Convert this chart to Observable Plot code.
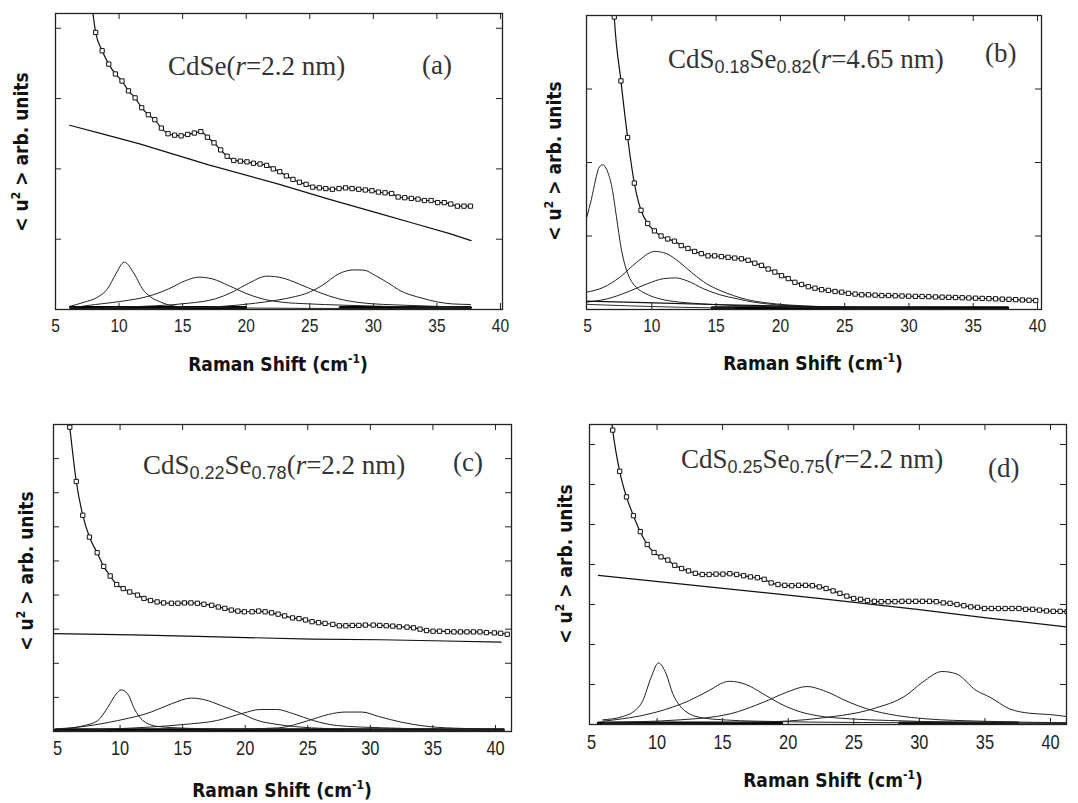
<!DOCTYPE html>
<html>
<head>
<meta charset="utf-8">
<script src="https://cdn.jsdelivr.net/npm/d3@7"></script>
<script src="https://cdn.jsdelivr.net/npm/@observablehq/plot@0.6"></script>
<style>
  body { margin: 0; background: #fff; }
  #page { position: relative; width: 1078px; height: 803px; overflow: hidden; background: #fff; }
  .pl { position: absolute; }
  .pl svg { display: block; }
  .t { position: absolute; font-family: "Liberation Serif", "Times New Roman", serif; font-size: 27px; line-height: 28px; color: #333; white-space: nowrap; }
  .t i { font-style: italic; }
  .t .sb { font-family: "Liberation Sans", Arial, sans-serif; font-size: 18px; position: relative; top: 5px; }
  .xl { position: absolute; font-family: "DejaVu Sans Condensed", "DejaVu Sans", sans-serif; font-stretch: condensed; font-weight: bold; font-size: 19px; line-height: 19px; white-space: nowrap; transform: translateX(-50%); color: #111; }
  .xl .sp, .yl .sp { font-size: 12px; position: relative; top: -8px; }
  .yl { position: absolute; font-family: "DejaVu Sans Condensed", "DejaVu Sans", sans-serif; font-stretch: condensed; font-weight: bold; font-size: 19px; line-height: 19px; white-space: nowrap; transform: translate(-50%, -50%) rotate(-90deg); color: #111; }
</style>
</head>
<body>
<div id="page"></div>
<script>
// ---------------- DATA ----------------
const xTickLabels = [5, 10, 15, 20, 25, 30, 35, 40];
const xTickMarks = [10, 15, 20, 25, 30, 35, 40];

// Panel (a) CdSe r=2.2 nm
const aX = [8.16,8.67,9.19,9.71,10.23,10.74,11.26,11.78,12.30,12.81,13.33,13.85,14.37,14.88,15.40,15.92,16.43,16.95,17.47,17.99,18.50,19.02,19.54,20.06,20.57,21.09,21.61,22.13,22.64,23.16,23.68,24.19,24.71,25.23,25.75,26.26,26.78,27.30,27.82,28.33,28.85,29.37,29.89,30.40,30.92,31.44,31.95,32.47,32.99,33.51,34.02,34.54,35.06,35.58,36.09,36.61,37.13,37.64];
const aY = [3.94,3.68,3.49,3.35,3.25,3.11,3.01,2.87,2.77,2.70,2.58,2.50,2.48,2.47,2.49,2.51,2.53,2.45,2.37,2.27,2.18,2.12,2.11,2.10,2.08,2.07,2.05,2.00,1.96,1.90,1.85,1.81,1.78,1.74,1.73,1.72,1.71,1.72,1.73,1.72,1.71,1.70,1.69,1.67,1.66,1.65,1.60,1.59,1.58,1.57,1.55,1.55,1.52,1.52,1.50,1.47,1.47,1.47];
const aTop = [7.85, 4.35];
const aBackground = [[6.11,2.62],[8.83,2.49],[11.55,2.36],[16.98,2.06],[22.41,1.79],[26.49,1.57],[30.57,1.36],[33.29,1.22],[36.01,1.08],[37.69,0.98]];
const aPeak1 = [[6.09,0.043],[7.26,0.104],[8.31,0.175],[9.09,0.294],[9.75,0.507],[10.41,0.673],[11.19,0.507],[11.84,0.294],[12.51,0.175],[13.29,0.104],[14.08,0.057],[15.38,0.033],[20.68,0.02],[28.95,0.014],[37.64,0.01]];
const aPeak2 = [[6.19,0.024],[8.15,0.071],[10.25,0.118],[12.34,0.19],[13.91,0.294],[15.22,0.41],[16.27,0.46],[17.32,0.436],[18.63,0.34],[19.94,0.232],[21.25,0.152],[22.82,0.104],[24.92,0.08],[27.54,0.062],[31.2,0.043],[37.64,0.024]];
const aPeak3 = [[6.19,0.005],[10.25,0.033],[15.48,0.09],[17.58,0.152],[18.89,0.246],[20.2,0.374],[21.64,0.474],[22.82,0.45],[24.13,0.365],[25.7,0.246],[27.28,0.152],[29.11,0.095],[32.51,0.06],[37.64,0.035]];
const aPeak4 = [[6.19,0.003],[15.48,0.024],[20.73,0.09],[23.87,0.185],[24.65,0.223],[25.96,0.34],[27.28,0.507],[28.46,0.564],[29.26,0.56],[30.15,0.483],[31.2,0.374],[31.99,0.28],[33.83,0.161],[36.18,0.08],[37.64,0.071]];
const aThick = [[[6.19,0.03],[19.95,0.03]],[[27.4,0.03],[37.64,0.03]]];

// Panel (b) CdS0.18Se0.82 r=4.65 nm
const bX = [7.08,7.60,8.12,8.64,9.16,9.68,10.20,10.72,11.24,11.76,12.29,12.81,13.33,13.85,14.37,14.89,15.41,15.93,16.45,16.97,17.49,18.01,18.53,19.05,19.57,20.09,20.61,21.13,21.65,22.17,22.69,23.21,23.73,24.25,24.77,25.29,25.81,26.33,26.85,27.37,27.89,28.41,28.93,29.46,29.98,30.50,31.02,31.54,32.06,32.58,33.10,33.62,34.14,34.66,35.18,35.70,36.22,36.74,37.26,37.78,38.30,38.82,39.34,39.86];
const bY = [3.98,3.11,2.34,1.72,1.35,1.17,1.07,1.00,0.96,0.93,0.87,0.83,0.79,0.76,0.73,0.73,0.72,0.71,0.70,0.69,0.67,0.63,0.60,0.55,0.51,0.46,0.42,0.37,0.34,0.31,0.29,0.27,0.26,0.245,0.236,0.22,0.21,0.20,0.20,0.195,0.19,0.19,0.186,0.184,0.181,0.179,0.177,0.174,0.171,0.168,0.166,0.163,0.160,0.157,0.154,0.151,0.148,0.145,0.141,0.138,0.134,0.130,0.126,0.122];
const bTop = [6.98, 4.3];
const bBackground = [[4.95,0.115],[10.2,0.09],[14.68,0.068],[20.61,0.045],[25.81,0.03],[31.02,0.018],[37.68,0.01]];
const bPeak1 = [[4.95,1.26],[5.3,1.5],[5.62,1.76],[5.86,1.92],[6.16,1.97],[6.53,1.89],[6.9,1.66],[7.25,1.26],[7.6,0.85],[7.95,0.58],[8.3,0.42],[8.81,0.30],[9.59,0.21],[10.62,0.145],[12.18,0.10],[13.95,0.077],[16.55,0.054],[20.51,0.03],[25.71,0.02],[37.68,0.01]];
const bPeak2 = [[4.95,0.236],[6.22,0.30],[7.52,0.44],[8.81,0.64],[10.23,0.79],[11.14,0.76],[12.18,0.64],[13.22,0.485],[14.26,0.35],[15.3,0.26],[16.34,0.19],[17.38,0.136],[18.95,0.09],[20.51,0.063],[23.11,0.04],[28.21,0.02],[37.68,0.008]];
const bPeak3 = [[4.95,0.10],[6.53,0.145],[8.08,0.236],[9.64,0.35],[10.93,0.42],[11.85,0.43],[12.75,0.39],[14.05,0.28],[15.3,0.20],[16.66,0.145],[17.9,0.10],[19.47,0.068],[21.86,0.04],[25.71,0.02],[37.68,0.008]];
const bLow = [[4.95,0.07],[8.12,0.05],[12.28,0.03],[16.45,0.018]];
const bThick = [[[14.68,0.025],[37.68,0.025]]];

// Panel (c) CdS0.22Se0.78 r=2.2 nm
const cX = [5.98,6.50,7.02,7.55,8.17,8.69,9.21,9.73,10.25,10.77,11.39,11.91,12.43,12.96,13.48,14.10,14.62,15.14,15.66,16.18,16.70,17.32,17.85,18.37,18.89,19.41,19.93,20.55,21.07,21.59,22.11,22.63,23.15,23.78,24.30,24.82,25.34,25.86,26.38,27.00,27.52,28.04,28.56,29.08,29.60,30.23,30.75,31.27,31.79,32.31,32.93,33.45,33.97,34.49,35.01,35.53,36.16,36.68,37.20,37.72,38.24,38.76,39.28,39.91,40.42,40.94];
const cY = [8.92,7.33,6.34,5.70,5.24,4.84,4.56,4.31,4.19,4.09,4.00,3.90,3.84,3.80,3.77,3.76,3.76,3.77,3.77,3.76,3.73,3.70,3.65,3.61,3.56,3.53,3.51,3.51,3.53,3.51,3.48,3.44,3.39,3.33,3.31,3.27,3.22,3.19,3.17,3.14,3.10,3.10,3.11,3.11,3.12,3.12,3.11,3.10,3.09,3.07,3.06,3.04,3.00,2.96,2.94,2.94,2.93,2.92,2.92,2.92,2.92,2.92,2.90,2.89,2.88,2.85];
const cTop = [5.83, 9.4];
const cBackground = [[4.7,2.87],[11.08,2.83],[17.01,2.78],[25.34,2.71],[30.85,2.69],[35.01,2.66],[40.45,2.62]];
const cPeak1 = [[4.95,0.06],[6.1,0.1],[7.15,0.176],[8.22,0.32],[9.02,0.71],[9.69,1.10],[10.08,1.22],[10.61,1.10],[11.15,0.66],[11.82,0.32],[13.02,0.147],[15.15,0.098],[17.76,0.068],[25.45,0.04],[40.63,0.02]];
const cPeak2 = [[4.95,0.08],[6.08,0.107],[9.81,0.32],[12.48,0.57],[14.09,0.81],[15.69,0.98],[16.75,0.93],[18.08,0.76],[19.42,0.57],[21.02,0.32],[22.62,0.205],[25.29,0.107],[28.49,0.068],[33.82,0.049],[40.63,0.039]];
const cPeak3 = [[4.95,0.02],[9.74,0.08],[15.05,0.205],[17.72,0.32],[19.86,0.54],[21.19,0.645],[22.52,0.645],[23.85,0.52],[25.45,0.32],[27.32,0.176],[31.07,0.107],[35.54,0.068],[40.63,0.049]];
const cPeak4 = [[4.95,0.01],[14.54,0.03],[22.66,0.107],[25.05,0.32],[26.65,0.50],[27.99,0.57],[29.32,0.57],[30.66,0.44],[32.52,0.27],[34.62,0.147],[37.54,0.088],[40.63,0.068]];
const cThick = [[[4.84,0.05],[40.63,0.05]]];

// Panel (d) CdS0.25Se0.75 r=2.2 nm
const dX = [6.62,7.15,7.67,8.20,8.72,9.25,9.77,10.30,10.82,11.35,11.87,12.40,12.92,13.45,13.97,14.50,15.02,15.55,16.07,16.60,17.12,17.65,18.17,18.70,19.22,19.74,20.27,20.79,21.32,21.84,22.37,22.89,23.42,23.94,24.47,24.99,25.52,26.04,26.57,27.09,27.62,28.14,28.67,29.19,29.72,30.24,30.77,31.29,31.82,32.34,32.87,33.39,33.92,34.44,34.97,35.49,36.02,36.54,37.07,37.59,38.11,38.64,39.16,39.69,40.21,40.74,41.26];
const dY = [7.36,6.33,5.69,5.22,4.82,4.50,4.30,4.19,4.11,3.98,3.90,3.84,3.78,3.75,3.75,3.76,3.76,3.77,3.75,3.72,3.69,3.67,3.63,3.54,3.50,3.48,3.47,3.48,3.48,3.47,3.44,3.40,3.34,3.28,3.21,3.15,3.13,3.10,3.08,3.07,3.07,3.07,3.08,3.08,3.08,3.08,3.08,3.07,3.04,3.03,3.00,2.97,2.94,2.93,2.90,2.90,2.90,2.90,2.90,2.90,2.88,2.88,2.86,2.84,2.83,2.83,2.82];
const dTop = [6.50, 7.7];
const dBackground = [[5.52,3.73],[22.15,3.16],[30.0,2.87],[35.27,2.66],[41.22,2.44]];
const dPeak1 = [[5.87,0.117],[7.39,0.2],[8.15,0.308],[8.92,0.6],[9.55,1.18],[10.11,1.54],[10.69,1.27],[11.2,0.77],[11.72,0.475],[12.47,0.267],[13.47,0.167],[15.02,0.117],[17.55,0.083],[25.66,0.05],[41.22,0.03]];
const dPeak2 = [[5.87,0.083],[9.93,0.308],[12.47,0.6],[13.74,0.81],[15.52,1.08],[16.79,1.0],[18.07,0.77],[19.33,0.53],[20.6,0.35],[22.13,0.225],[24.67,0.142],[27.73,0.1],[32.79,0.058],[41.22,0.03]];
const dPeak3 = [[5.87,0.05],[11.77,0.117],[15.58,0.267],[18.12,0.558],[19.9,0.808],[21.43,0.95],[22.69,0.85],[24.64,0.558],[26.0,0.392],[28.27,0.225],[30.52,0.142],[34.68,0.083],[41.22,0.045]];
const dPeak4 = [[5.87,0.02],[17.55,0.058],[22.64,0.167],[26.45,0.392],[28.97,0.725],[30.26,1.06],[31.74,1.325],[32.79,1.27],[34.34,0.85],[35.38,0.683],[36.87,0.392],[38.37,0.283],[39.92,0.25],[41.22,0.2]];
const dThick = [[[5.52,0.04],[19.5,0.04]],[[28.5,0.04],[37.5,0.04]]];

// ---------------- DRAWING ----------------
const page = document.getElementById("page");
const xy = {x: d => d[0], y: d => d[1]};

function panel(cfg) {
  const fw = cfg.width - cfg.ml - cfg.mr;
  const fh = cfg.height - cfg.mt - cfg.mb;
  const pts = cfg.X.map((x, i) => [x, cfg.Y[i]]);
  const linePts = [cfg.top, ...pts];
  const marks = [
    Plot.ruleX(xTickMarks, {x: d => d, insetTop: fh - 6, stroke: "#222"}),
    Plot.ruleX(xTickMarks, {x: d => d, insetBottom: fh - 6, stroke: "#222"}),
    Plot.ruleY(cfg.yTicks, {y: d => d, insetRight: fw - 6, stroke: "#222"}),
    Plot.ruleY(cfg.yTicks, {y: d => d, insetLeft: fw - 6, stroke: "#222"}),
    Plot.axisX({ticks: xTickLabels, tickSize: 0, tickPadding: cfg.tickPad, fontSize: cfg.tickFont, label: null, fill: "#222"}),
    ...cfg.thick.map(t => Plot.line(t, {...xy, stroke: "#000", strokeWidth: 3, clip: true})),
    ...cfg.extra.map(t => Plot.line(t, {...xy, stroke: "#333", strokeWidth: 1, clip: true})),
    ...cfg.peaks.map(p => Plot.line(p, {...xy, stroke: "#222", strokeWidth: 1, curve: "monotone-x", clip: true})),
    Plot.line(cfg.bg, {...xy, stroke: "#111", strokeWidth: 1.2, clip: true}),
    Plot.line(linePts, {...xy, stroke: "#111", strokeWidth: 1.2, curve: "monotone-x", clip: true}),
    Plot.dot(pts, {...xy, symbol: "square", r: 2.4, fill: "white", stroke: "#111", strokeWidth: 1, clip: true}),
    Plot.frame({stroke: "#222", strokeWidth: 1.3})
  ];
  const svg = Plot.plot({
    width: cfg.width, height: cfg.height,
    marginLeft: cfg.ml, marginRight: cfg.mr, marginTop: cfg.mt, marginBottom: cfg.mb,
    x: {domain: cfg.xDomain},
    y: {domain: cfg.yDomain, axis: null},
    style: {background: "transparent", fontFamily: "Liberation Sans, Arial, sans-serif", color: "#222", overflow: "visible"},
    marks
  });
  svg.querySelectorAll('g[aria-label="x-axis tick label"] text').forEach(t => {
    const tr = t.getAttribute("transform") || "";
    t.setAttribute("transform", tr + " scale(0.82,1)");
  });
  const div = document.createElement("div");
  div.className = "pl";
  div.style.left = cfg.left + "px";
  div.style.top = cfg.topPx + "px";
  div.appendChild(svg);
  page.appendChild(div);
}

function addHTML(cls, html, left, top) {
  const d = document.createElement("div");
  d.className = cls;
  d.innerHTML = html;
  d.style.left = left + "px";
  d.style.top = top + "px";
  page.appendChild(d);
}

panel({left: 0, topPx: 0, width: 539, height: 400, ml: 55, mr: 37, mt: 13, mb: 91,
  xDomain: [5, 40.16], yDomain: [0, 4.21], yTicks: [1, 2, 3, 4], tickPad: 9, tickFont: 19,
  X: aX, Y: aY, top: aTop, bg: aBackground, peaks: [aPeak1, aPeak2, aPeak3, aPeak4], thick: aThick, extra: []});
panel({left: 539, topPx: 0, width: 539, height: 400, ml: 47, mr: 37, mt: 15, mb: 91,
  xDomain: [4.92, 40.31], yDomain: [0, 4.0], yTicks: [1, 2, 3], tickPad: 9, tickFont: 19,
  X: bX, Y: bY, top: bTop, bg: bBackground, peaks: [bPeak1, bPeak2, bPeak3], thick: bThick, extra: [bLow]});
panel({left: 0, topPx: 401, width: 539, height: 402, ml: 53, mr: 28, mt: 23, mb: 72,
  xDomain: [4.68, 41.28], yDomain: [0, 9.0], yTicks: [1, 2, 3, 4, 5, 6, 7, 8], tickPad: 9, tickFont: 20,
  X: cX, Y: cY, top: cTop, bg: cBackground, peaks: [cPeak1, cPeak2, cPeak3, cPeak4], thick: cThick, extra: []});
panel({left: 539, topPx: 401, width: 539, height: 402, ml: 50, mr: 12, mt: 23, mb: 79,
  xDomain: [4.85, 41.22], yDomain: [0, 7.5], yTicks: [1, 2, 3, 4, 5, 6, 7], tickPad: 10, tickFont: 20,
  X: dX, Y: dY, top: dTop, bg: dBackground, peaks: [dPeak1, dPeak2, dPeak3, dPeak4], thick: dThick, extra: []});

// Titles
addHTML("t", 'CdSe(<i>r</i>=2.2 nm)', 168, 52);
addHTML("t", '(a)', 422, 51);
addHTML("t", 'CdS<span class="sb">0.18</span>Se<span class="sb">0.82</span>(<i>r</i>=4.65 nm)', 668, 45);
addHTML("t", '(b)', 985, 39);
addHTML("t", 'CdS<span class="sb">0.22</span>Se<span class="sb">0.78</span>(<i>r</i>=2.2 nm)', 143, 451);
addHTML("t", '(c)', 453, 448);
addHTML("t", 'CdS<span class="sb">0.25</span>Se<span class="sb">0.75</span>(<i>r</i>=2.2 nm)', 681, 445);
addHTML("t", '(d)', 988, 454);

// Axis labels
const xLab = 'Raman Shift (cm<span class="sp">-1</span>)';
addHTML("xl", xLab, 278, 355);
addHTML("xl", xLab, 813, 354);
addHTML("xl", xLab, 282, 781);
addHTML("xl", xLab, 833, 771);
const yLab = '&lt; u<span class="sp">2</span> &gt; arb. units';
addHTML("yl", yLab, 23, 152);
addHTML("yl", yLab, 556, 161);
addHTML("yl", yLab, 28, 571);
addHTML("yl", yLab, 567, 564);
</script>
</body>
</html>
